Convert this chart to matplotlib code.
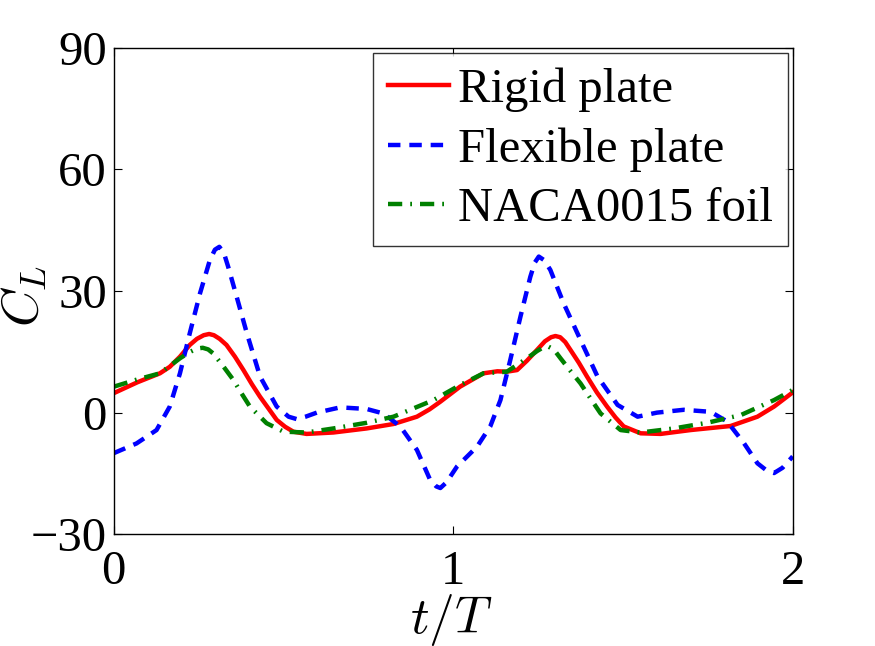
import matplotlib
matplotlib.use("Agg")
import matplotlib.pyplot as plt

plt.rcParams['font.family'] = ['Liberation Serif', 'DejaVu Serif']
plt.rcParams['mathtext.fontset'] = 'cm'

# Rigid plate
t_rigid = [0.0, 0.07, 0.136, 0.165, 0.195, 0.224, 0.245, 0.265, 0.281, 0.295, 0.312, 0.332, 0.357,
           0.382, 0.407, 0.431, 0.456, 0.48, 0.505, 0.529, 0.568, 0.647, 0.745, 0.824, 0.893, 0.93,
           0.962, 1.02, 1.089, 1.13, 1.158, 1.188, 1.217, 1.247, 1.27, 1.288, 1.301, 1.315, 1.33,
           1.345, 1.37, 1.394, 1.423, 1.453, 1.478, 1.502, 1.552, 1.611, 1.699, 1.817, 1.896, 1.945, 2.0]
c_rigid = [4.8, 7.5, 9.7, 11.3, 13.8, 16.7, 18.2, 19.1, 19.4, 19.1, 18.2, 16.7, 13.8,
           10.5, 7.0, 3.9, 1.0, -1.8, -3.5, -4.7, -5.25, -4.9, -3.9, -2.8, -1.0, 0.8,
           2.7, 6.4, 9.7, 10.2, 10.1, 10.5, 12.8, 15.5, 17.6, 18.6, 18.9, 18.6, 17.4,
           15.5, 12.3, 8.9, 5.0, 1.5, -1.2, -3.4, -5.1, -5.25, -4.3, -3.3, -1.0, 1.5, 5.0]

# Flexible plate
t_flex = [0.0, 0.067, 0.126, 0.165, 0.195, 0.224, 0.254, 0.283, 0.298, 0.311, 0.324, 0.337, 0.362,
          0.392, 0.431, 0.48, 0.515, 0.539, 0.565, 0.598, 0.667, 0.745, 0.794, 0.844, 0.893, 0.932,
          0.95, 0.962, 0.98, 1.011, 1.07, 1.109, 1.139, 1.168, 1.198, 1.227, 1.24, 1.252, 1.268,
          1.286, 1.325, 1.375, 1.425, 1.484, 1.543, 1.6, 1.679, 1.758, 1.807, 1.856, 1.896, 1.925,
          1.945, 1.97, 2.0]
c_flex = [-10.0, -7.6, -4.3, 1.5, 9.7, 19.6, 29.4, 37.6, 40.2, 40.9, 39.5, 36.0, 28.6,
          19.6, 8.9, 1.5, -1.0, -1.6, -1.0, 0.0, 1.3, 0.9, -0.2, -3.4, -9.2, -16.6,
          -18.2, -18.6, -17.2, -13.3, -8.4, -3.4, 3.1, 13.0, 23.7, 33.5, 37.0, 38.5, 37.6,
          35.2, 27.0, 17.9, 8.9, 1.9, -1.0, 0.0, 0.7, 0.2, -2.2, -7.5, -12.5, -14.4,
          -14.9, -13.6, -10.8]

# NACA0015 foil
t_naca = [0.0, 0.07, 0.136, 0.195, 0.225, 0.245, 0.262, 0.278, 0.293, 0.322, 0.352, 0.376, 0.401,
          0.45, 0.5, 0.568, 0.647, 0.745, 0.824, 0.942, 1.02, 1.089, 1.158, 1.217, 1.247, 1.265,
          1.28, 1.296, 1.316, 1.345, 1.375, 1.405, 1.434, 1.493, 1.552, 1.65, 1.748, 1.847, 1.945, 2.0]
c_naca = [6.4, 8.2, 9.7, 13.4, 15.0, 15.8, 16.0, 15.6, 14.6, 11.5, 8.1, 4.8, 1.5,
          -2.6, -4.7, -4.9, -3.9, -2.5, -1.0, 3.1, 6.8, 9.7, 10.1, 13.4, 15.2, 16.1,
          16.3, 15.6, 13.4, 10.3, 7.2, 3.4, -0.2, -4.3, -4.9, -3.9, -2.5, -0.6, 3.1, 5.6]

x_ticks = [0, 1, 2]
y_ticks = [-30, 0, 30, 60, 90]
y_tick_labels = ['\u221230', '0', '30', '60', '90']

fig = plt.figure(figsize=(8.75, 6.46), dpi=100)
ax = fig.add_axes([0.130, 0.173, 0.776, 0.753])

ax.plot(t_rigid, c_rigid, color='#ff0000', lw=3.2, ls='-', label='Rigid plate')
ax.plot(t_flex, c_flex, color='#0000ff', lw=3.2, ls=(0, (2.8, 2.0)), label='Flexible plate')
ax.plot(t_naca, c_naca, color='#008000', lw=3.2, ls=(0, (3.2, 1.8, 0.4, 1.8)), label='NACA0015 foil')

ax.set_xlim(0, 2)
ax.set_ylim(-30, 90)
ax.set_xticks(x_ticks)
ax.set_yticks(y_ticks)
ax.set_yticklabels(y_tick_labels)
ax.tick_params(direction='in', length=6, width=0.8, top=True, right=True, labelsize=35)
ax.tick_params(axis='y', pad=5)
ax.tick_params(axis='x', pad=11)
for s in ax.spines.values():
    s.set_linewidth(1.0)

ax.set_xlabel(r'$t/T$', fontsize=37)
ax.xaxis.set_label_coords(0.497, -0.118)
ax.set_ylabel(r'$C_L$', fontsize=37)
ax.yaxis.set_label_coords(-0.095, 0.49)

leg = ax.legend(loc='upper right', fontsize=35, frameon=True, fancybox=False,
                edgecolor='black', handlelength=1.25, handletextpad=0.2,
                borderpad=0.3, labelspacing=0.32, borderaxespad=0.1)
leg.get_frame().set_linewidth(1.0)

fig.savefig('out.png', dpi=100, facecolor='white')
